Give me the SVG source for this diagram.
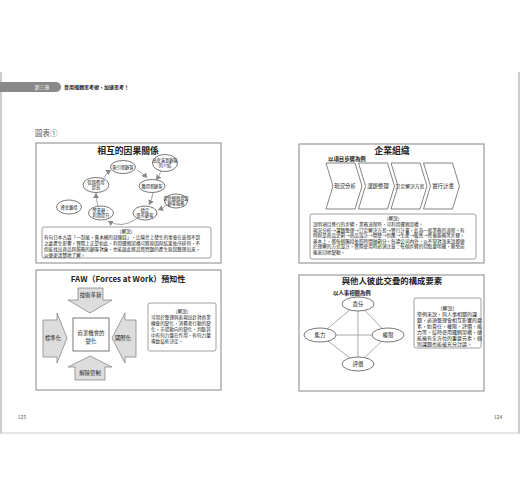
<svg xmlns="http://www.w3.org/2000/svg" width="520" height="500" viewBox="0 0 520 500">
<defs>
<style>
text{font-family:"Noto Sans CJK TC","Noto Sans CJK SC",sans-serif;fill:#222}
.t{font-size:8.8px;font-weight:bold;text-anchor:middle}
.e{font-size:4.6px}
.c{text-anchor:middle}
.lab{font-size:4.2px;text-anchor:middle}
.lab5{font-size:5.4px;text-anchor:middle}
.panel{fill:#fff;stroke:#999;stroke-width:1.2}
.box{fill:#fff;stroke:#888;stroke-width:0.8}
.el{fill:#fff;stroke:#555;stroke-width:0.8}
.arc{fill:none;stroke:#999;stroke-width:0.9;marker-end:url(#ah)}
.blk{fill:#ddd;stroke:#888;stroke-width:0.8}
.chev{fill:#fff;stroke:#666;stroke-width:0.8}
.ln{stroke:#aaa;stroke-width:1}
</style>
<marker id="ah" markerWidth="6" markerHeight="6" refX="5" refY="3" orient="auto" markerUnits="userSpaceOnUse"><path d="M0,0 L5,3 L0,6 z" fill="#888"/></marker>
</defs>
<rect width="520" height="500" fill="#fff"/>
<!-- page frame -->
<line x1="1" y1="72" x2="1" y2="433" stroke="#bbb" stroke-width="1.5"/>
<line x1="519" y1="72" x2="519" y2="433" stroke="#bbb" stroke-width="1.5"/>
<line x1="0" y1="433" x2="520" y2="433" stroke="#ccc" stroke-width="1"/>
<!-- header -->
<g id="header">
<path d="M0,82 H56 A5,5 0 0 1 56,92 H0 Z" fill="#888"/>
<text x="42" y="89" class="c" style="font-size:5px;fill:#fff">第三章</text>
<text x="64" y="89" style="font-size:5px;font-weight:bold">善用邏輯思考術，加速思考！</text>
</g>
<text x="35" y="136" style="font-size:7.5px;fill:#555">圖表①</text>
<text x="22" y="419" class="c" style="font-size:5px;fill:#555">125</text>
<text x="498" y="419" class="c" style="font-size:5px;fill:#555">124</text>

<!-- Panel 1 -->
<g id="panel1">
<rect class="panel" x="36" y="143" width="185" height="120"/>
<text class="t" x="128" y="154">相互的因果關係</text>
</g>
<g id="connectors1">
<path class="arc" d="M102,181 Q106,173 111,170"/>
<path class="arc" d="M137,170 Q143,173 147,178"/>
<path class="arc" d="M153,193 Q152,199 149,205"/>
<path class="arc" d="M136,219 Q122,229 108,221"/>
<path class="arc" d="M98,206 Q96,199 96,193"/>
<path class="arc" d="M161,171 Q159,176 156,180"/>
<path class="arc" d="M167,205 Q163,208 158,210"/>
</g>
<g id="n_xiyin"><ellipse class="el" cx="123" cy="167" rx="12.5" ry="6.5"/><text class="lab" x="123" y="168.5">吸引新顧客</text></g>
<g id="n_gaodu"><ellipse class="el" cx="165" cy="163" rx="12.5" ry="8.5"/><text class="lab" x="165" y="162">高度滿意顧客</text><text class="lab" x="165" y="167">的介紹</text></g>
<g id="n_huode"><ellipse class="el" cx="152" cy="186" rx="13" ry="6.5"/><text class="lab" x="152" y="187.5">獲得新顧客</text></g>
<g id="n_cuxiao"><ellipse class="el" cx="96" cy="185" rx="13" ry="7.5"/><text class="lab" x="96" y="184">促銷費用</text><text class="lab" x="96" y="189">提高</text></g>
<g id="n_tigong"><ellipse class="el" cx="176" cy="201" rx="11.5" ry="7"/><text class="lab" x="176" y="200">提供細微周到</text><text class="lab" x="176" y="205">顧客服務</text></g>
<g id="n_zijin"><ellipse class="el" cx="69" cy="207" rx="12.5" ry="7"/><text class="lab" x="69" y="208.5">資金籌措</text></g>
<g id="n_yingye"><ellipse class="el" cx="101" cy="213" rx="12.5" ry="7"/><text class="lab" x="101" y="212">營業額、</text><text class="lab" x="101" y="217">利潤提升</text></g>
<g id="n_wending"><ellipse class="el" cx="145" cy="213" rx="12" ry="7"/><text class="lab" x="145" y="212">穩定</text><text class="lab" x="145" y="217">既有顧客</text></g>
<g id="expl1">
<rect class="box" x="42" y="227" width="169" height="31" rx="2"/>
<text class="e c" x="126" y="233">（解說）</text>
<text class="e" x="44" y="239">有句日本古諺「一刮風，賣木桶的就賺錢」，比喻世上發生的事會在意想不到</text>
<text class="e" x="44" y="245">之處產生影響。實際上正是如此，利用邏輯架構可將原因與結果依序排列，不</text>
<text class="e" x="44" y="251">但能找出商品與服務的顧客對象，也能藉此將品質問題的產生原因整理出來，</text>
<text class="e" x="44" y="257">以便更清楚地了解。</text>
</g>

<!-- Panel 2 FAW -->
<g id="panel2">
<rect class="panel" x="36" y="270" width="185" height="120"/>
<text class="t" x="128" y="282" style="font-size:8px">FAW（Forces at Work）預知性</text>
</g>
<g id="n_jishu"><polygon class="blk" points="78,288 103,288 103,300 112,300 90,313 68,300 78,300"/><text class="lab5" x="90.5" y="296.5">技術革新</text></g>
<g id="n_biaozhun"><polygon class="blk" points="43,320 57,320 57,313 67,338 57,363 57,357 43,357"/><text class="lab5" x="53" y="340">標準化</text></g>
<g id="n_guoji"><polygon class="blk" points="136,320 125,320 125,313 112,338 125,363 125,357 136,357"/><text class="lab5" x="123" y="340">國際化</text></g>
<g id="n_jiechu"><polygon class="blk" points="75,380 105,380 105,367 112,367 90,356 68,367 75,367"/><text class="lab5" x="90" y="375">解除管制</text></g>
<g id="n_shangye"><rect x="73" y="318" width="36" height="33" fill="#fff" stroke="#555" stroke-width="0.8"/><text class="lab5" x="91" y="335">商業機會的</text><text class="lab5" x="91" y="343">變化</text></g>
<g id="expl2">
<rect class="box" x="148" y="303" width="68" height="48" rx="2"/>
<text class="e c" x="182" y="313">（解說）</text>
<text class="e" x="151" y="319">可用於整理與表現出針對商業</text>
<text class="e" x="151" y="325">機會的變化，消費者行動的變</text>
<text class="e" x="151" y="331">化，市場動向的變化，判斷其</text>
<text class="e" x="151" y="337">中有何力量在作用，有何力量</text>
<text class="e" x="151" y="343">導致這些決定。</text>
</g>

<!-- Panel 3 -->
<g id="panel3">
<rect class="panel" x="299" y="144" width="185" height="119"/>
<text class="t" x="392" y="154">企業組織</text>
<text x="328" y="160.5" style="font-size:5.4px;font-weight:bold">以項目步驟為例</text>
</g>
<g id="s1"><polygon class="chev" points="326,163 355,163 362,186 355,209 326,209 333,186"/><text class="lab5" x="345" y="188">現況分析</text></g>
<g id="s2"><polygon class="chev" points="358.5,163 387.5,163 394.5,186 387.5,209 358.5,209 365.5,186"/><text class="lab5" x="378" y="188">課題整理</text></g>
<g id="s3"><polygon class="chev" points="391,163 420,163 427,186 420,209 391,209 398,186"/><text class="lab5" x="410" y="188" style="font-size:4.8px">訂定解決方案</text></g>
<g id="s4"><polygon class="chev" points="423.5,163 452.5,163 459.5,186 452.5,209 423.5,209 430.5,186"/><text class="lab5" x="443" y="188">實行計畫</text></g>
<g id="expl3">
<rect class="box" x="310" y="214" width="166" height="45" rx="2"/>
<text class="e c" x="393" y="220">（解說）</text>
<text class="e" x="313" y="226">說明項目進行的步驟，業務流程時，可利用邏輯架構。</text>
<text class="e" x="313" y="231.5">現況分析→課題整理→訂定解決方案→實行計畫，此為一般業務的流程。有</text>
<text class="e" x="313" y="237">時則是商品企劃→商品設計→開發→供應→生產→販售→售後服務等步驟。</text>
<text class="e" x="313" y="242.5">基本上，將每個階段依照時間軸劃分。無論公司內外，以不管對誰來說都便</text>
<text class="e" x="313" y="248">於理解的方式設計。實際使用時必須注意：每個步驟的切點要明確，避免前</text>
<text class="e" x="313" y="253.5">後來回地變動。</text>
</g>

<!-- Panel 4 -->
<g id="panel4">
<rect class="panel" x="299" y="275" width="185" height="116"/>
<text class="t" x="392" y="284" style="font-size:8.4px">與他人彼此交疊的構成要素</text>
<text x="333" y="294.5" style="font-size:5.4px;font-weight:bold">以人事相關為例</text>
</g>
<g id="connectors4">
<line class="ln" x1="358" y1="303" x2="320" y2="335"/>
<line class="ln" x1="358" y1="303" x2="388" y2="335"/>
<line class="ln" x1="320" y1="335" x2="358" y2="364"/>
<line class="ln" x1="388" y1="335" x2="358" y2="364"/>
<line class="ln" x1="320" y1="335" x2="388" y2="335"/>
<line class="ln" x1="358" y1="303" x2="358" y2="364"/>
</g>
<g id="n_zeren"><ellipse class="el" cx="358" cy="304" rx="16" ry="7"/><text class="lab5" x="358" y="306">責任</text></g>
<g id="n_nengli"><ellipse class="el" cx="320" cy="335" rx="16" ry="7"/><text class="lab5" x="320" y="337">能力</text></g>
<g id="n_quanxian"><ellipse class="el" cx="388" cy="335" rx="16" ry="7"/><text class="lab5" x="388" y="337">權限</text></g>
<g id="n_pingjia"><ellipse class="el" cx="358" cy="364" rx="16" ry="7"/><text class="lab5" x="358" y="366">評價</text></g>
<g id="expl4">
<rect class="box" x="414" y="298" width="67" height="50" rx="2"/>
<text class="e c" x="447.5" y="310" style="font-size:5px">（解說）</text>
<text class="e" x="417" y="316" style="font-size:5px">舉例來說，與人事相關的課</text>
<text class="e" x="417" y="322" style="font-size:5px">題，必須整理會相互影響的要</text>
<text class="e" x="417" y="328" style="font-size:5px">素，如責任、權限、評價、能</text>
<text class="e" x="417" y="334" style="font-size:5px">力等。這時使用邏輯架構，便</text>
<text class="e" x="417" y="340" style="font-size:5px">能擁有全方位的重要元素，個</text>
<text class="e" x="417" y="346" style="font-size:5px">別課題也能被充分討論。</text>
</g>
</svg>
